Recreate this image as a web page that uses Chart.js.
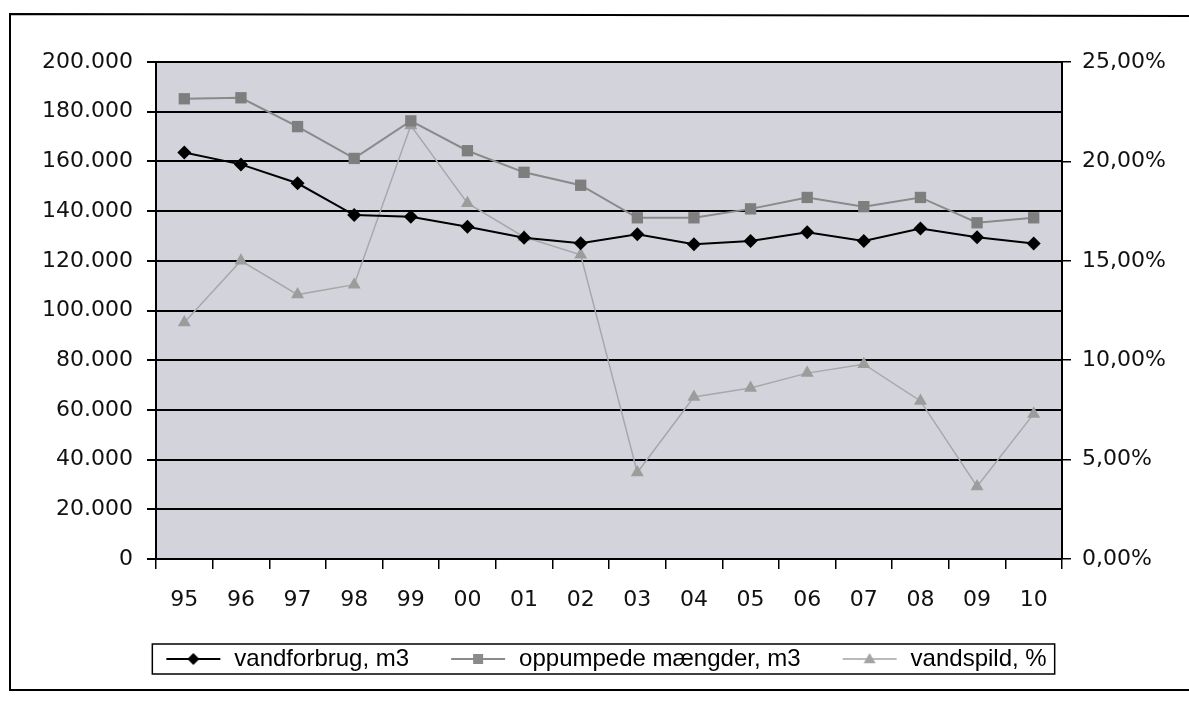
<!DOCTYPE html>
<html>
<head>
<meta charset="utf-8">
<script src="https://cdn.jsdelivr.net/npm/chart.js@4.4.0/dist/chart.umd.min.js"></script>
<style>
  html, body { margin: 0; padding: 0; background: #fff; }
  #wrap { width: 1189px; height: 702px; }
</style>
</head>
<body>
<div id="wrap"><canvas id="chart" width="1189" height="702"></canvas></div>
<script>
const years = ['95', '96', '97', '98', '99', '00', '01', '02', '03', '04', '05', '06', '07', '08', '09', '10'];

// m3
const vandforbrug = [163600, 158800, 151200, 138400, 137700, 133700, 129300, 127100, 130700, 126700, 128000, 131500, 128000, 133000, 129500, 127000];
const oppumpede = [185200, 185600, 174000, 161200, 176300, 164300, 155600, 150400, 137300, 137300, 140900, 145500, 141800, 145500, 135300, 137300];
// procent
const vandspild = [11.9, 15.0, 13.3, 13.8, 21.8, 17.9, 16.2, 15.3, 4.35, 8.15, 8.6, 9.35, 9.8, 7.95, 3.65, 7.3];

const leftTickLabels = ['0', '20.000', '40.000', '60.000', '80.000', '100.000', '120.000', '140.000', '160.000', '180.000', '200.000'];
const rightTickLabels = ['0,00%', '5,00%', '10,00%', '15,00%', '20,00%', '25,00%'];

const tickFont = { family: 'DejaVu Sans', size: 22 };
const SAMPLE_W = 80;   // legendefelt inkl. luft foran linjen
const SAMPLE_GAP = 24;

// lille linje + markør til legenden
function legendSample(color, lineW, style, r) {
    const c = document.createElement('canvas');
    c.width = SAMPLE_W;
    c.height = 18;
    const g = c.getContext('2d');
    const x0 = SAMPLE_GAP, x1 = SAMPLE_W - 2, cx = (x0 + x1) / 2;
    g.strokeStyle = color;
    g.lineWidth = lineW;
    g.beginPath();
    g.moveTo(x0, 9);
    g.lineTo(x1, 9);
    g.stroke();
    g.fillStyle = color;
    g.beginPath();
    if (style === 'rectRot') {
        g.moveTo(cx, 9 - r); g.lineTo(cx + r, 9); g.lineTo(cx, 9 + r); g.lineTo(cx - r, 9);
    } else if (style === 'rect') {
        g.rect(cx - r, 9 - r, 2 * r, 2 * r);
    } else {
        g.moveTo(cx, 9 - r); g.lineTo(cx + r, 9 + r * 0.7); g.lineTo(cx - r, 9 + r * 0.7);
    }
    g.closePath();
    g.fill();
    return c;
}

const samples = [
    legendSample('#000', 2, 'rectRot', 6),
    legendSample('#8a8a8a', 2, 'rect', 5),
    legendSample('#a4a4a4', 1.5, 'triangle', 6)
];

const plotBackground = {
    id: 'plotBackground',
    beforeDraw(chart) {
        const { ctx, chartArea: a } = chart;
        ctx.save();
        ctx.fillStyle = '#d3d3dc';
        ctx.fillRect(a.left, a.top, a.right - a.left, a.bottom - a.top);
        ctx.restore();
    },
    afterDraw(chart) {
        const ctx = chart.ctx;
        ctx.save();
        ctx.strokeStyle = '#000';
        ctx.lineWidth = 2;
        // ydre ramme
        ctx.beginPath();
        ctx.moveTo(1189, 16);
        ctx.lineTo(10, 14);
        ctx.lineTo(10, 690);
        ctx.lineTo(1189, 690);
        ctx.stroke();
        // ramme om legenden
        const boxes = chart.legend.legendHitBoxes;
        if (boxes && boxes.length) {
            const first = boxes[0];
            const last = boxes[boxes.length - 1];
            const x0 = first.left + SAMPLE_GAP - 14;
            const x1 = last.left + last.width + 8;
            const y0 = first.top - 3;
            const y1 = first.top + first.height + 3;
            ctx.lineWidth = 1.5;
            ctx.strokeRect(x0, y0, x1 - x0, y1 - y0);
        }
        ctx.restore();
    }
};

new Chart(document.getElementById('chart'), {
    type: 'line',
    data: {
        labels: years,
        datasets: [
            {
                label: 'vandforbrug, m3',
                data: vandforbrug,
                yAxisID: 'y',
                borderColor: '#000',
                backgroundColor: '#000',
                borderWidth: 2,
                pointStyle: 'rectRot',
                pointRadius: 7,
                pointBorderWidth: 0,
                tension: 0
            },
            {
                label: 'oppumpede mængder, m3',
                data: oppumpede,
                yAxisID: 'y',
                borderColor: '#8a8a8a',
                backgroundColor: '#7e7e7e',
                borderWidth: 2,
                pointStyle: 'rect',
                pointRadius: 8,
                pointBorderWidth: 0,
                tension: 0
            },
            {
                label: 'vandspild, %',
                data: vandspild,
                yAxisID: 'y2',
                borderColor: '#a8a8a8',
                backgroundColor: '#9c9c9c',
                borderWidth: 1.5,
                pointStyle: 'triangle',
                pointRadius: 7.5,
                pointBorderWidth: 0,
                tension: 0
            }
        ]
    },
    options: {
        responsive: false,
        animation: false,
        layout: {
            padding: { top: 62, left: 0, right: 0, bottom: 21 }
        },
        plugins: {
            tooltip: { enabled: false },
            legend: {
                position: 'bottom',
                labels: {
                    usePointStyle: true,
                    pointStyleWidth: SAMPLE_W,
                    padding: 18,
                    color: '#000',
                    font: { family: 'Liberation Sans', size: 24 },
                    generateLabels: (chart) => chart.data.datasets.map((ds, i) => ({
                        text: ds.label,
                        pointStyle: samples[i],
                        fillStyle: ds.borderColor,
                        strokeStyle: ds.borderColor,
                        lineWidth: 0,
                        fontColor: '#000',
                        datasetIndex: i
                    }))
                }
            }
        },
        scales: {
            x: {
                offset: true,
                grid: {
                    display: true,
                    offset: true,
                    drawOnChartArea: false,
                    color: '#000',
                    lineWidth: 1.5,
                    tickLength: 10
                },
                border: { display: true, color: '#000', width: 2 },
                ticks: {
                    color: '#111',
                    font: tickFont,
                    padding: 18,
                    maxRotation: 0
                },
                afterFit: (scale) => { scale.height = 70; }
            },
            y: {
                position: 'left',
                min: 0,
                max: 200000,
                ticks: {
                    stepSize: 20000,
                    color: '#111',
                    font: tickFont,
                    padding: 14,
                    callback: (v, i) => leftTickLabels[i]
                },
                grid: {
                    color: '#000',
                    lineWidth: 2,
                    tickLength: 9
                },
                border: { display: true, color: '#000', width: 2 },
                afterFit: (scale) => { scale.width = 156; }
            },
            y2: {
                position: 'right',
                min: 0,
                max: 25,
                ticks: {
                    stepSize: 5,
                    color: '#111',
                    font: tickFont,
                    padding: 11,
                    callback: (v, i) => rightTickLabels[i]
                },
                grid: {
                    drawOnChartArea: false,
                    color: '#000',
                    lineWidth: 1.5,
                    tickLength: 9
                },
                border: { display: true, color: '#000', width: 2 },
                afterFit: (scale) => { scale.width = 127; }
            }
        }
    },
    plugins: [plotBackground]
});
</script>
</body>
</html>
